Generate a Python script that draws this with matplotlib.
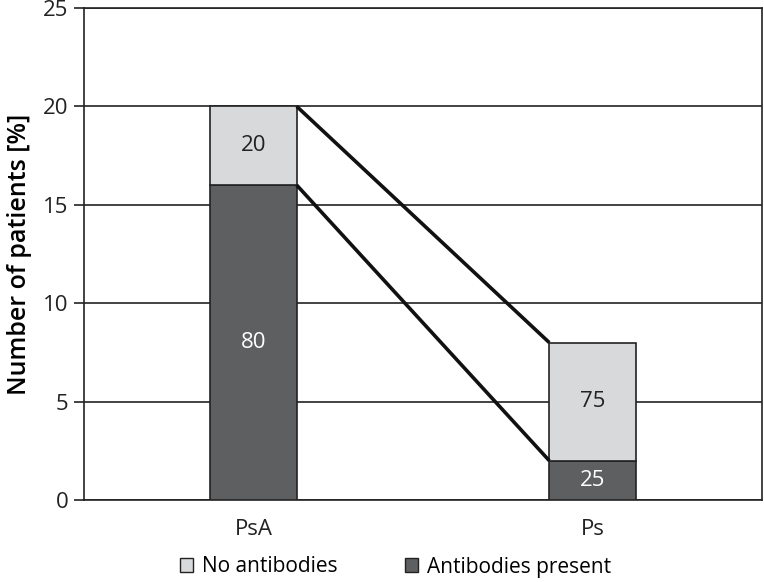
import matplotlib
matplotlib.use('Agg')
import matplotlib.pyplot as plt
from matplotlib.patches import Patch

plt.rcParams['font.family'] = ['Open Sans', 'DejaVu Sans']

groups = ['PsA', 'Ps']
antibodies = [16, 2]          # % of patients, antibodies present
no_antibodies = [4, 6]        # % of patients, no antibodies
pct_present = ['80', '25']    # share within group
pct_absent = ['20', '75']

DARK = '#5e5f61'
LIGHT = '#d8d9db'
INK = '#222222'
FS = 16

fig = plt.figure(figsize=(7.64, 5.82), dpi=100)
ax = fig.add_axes([84 / 764, 82 / 582, 678 / 764, 492 / 582])

x = list(range(len(groups)))
w = 0.255
ax.bar(x, antibodies, w, color=DARK, edgecolor=INK, linewidth=1.2, zorder=3)
ax.bar(x, no_antibodies, w, bottom=antibodies, color=LIGHT, edgecolor=INK,
       linewidth=1.2, zorder=3)

# connecting lines between bars
tops = [a + n for a, n in zip(antibodies, no_antibodies)]
ax.plot([x[0] + w / 2, x[1] - w / 2], [tops[0], tops[1]], color='#111111', lw=2.6, zorder=4,
        solid_capstyle='butt')
ax.plot([x[0] + w / 2, x[1] - w / 2], [antibodies[0], antibodies[1]], color='#111111', lw=2.6,
        zorder=4, solid_capstyle='butt')

for i in x:
    ax.text(i, antibodies[i] / 2, pct_present[i], ha='center', va='center',
            color='white', fontsize=FS, zorder=5)
    ax.text(i, antibodies[i] + no_antibodies[i] / 2, pct_absent[i], ha='center', va='center',
            color=INK, fontsize=FS, zorder=5)

ax.set_xlim(-0.5, 1.5)
ax.set_ylim(0, 25)
ax.set_yticks([0, 5, 10, 15, 20, 25])
ax.set_xticks(x)
ax.set_xticklabels(groups)
ax.yaxis.grid(True, color=INK, linewidth=1.2, zorder=0)
ax.tick_params(axis='y', length=7, width=1.2, labelsize=FS, pad=4, colors=INK)
ax.tick_params(axis='x', length=0, labelsize=FS, pad=14, colors=INK)
for s in ax.spines.values():
    s.set_color(INK)
    s.set_linewidth(1.2)
ax.set_ylabel('Number of patients [%]', fontsize=18, fontweight='semibold', labelpad=8)

handles = [Patch(facecolor=LIGHT, edgecolor=INK, label='No antibodies'),
           Patch(facecolor=DARK, edgecolor=INK, label='Antibodies present')]
fig.legend(handles=handles, loc='center left', bbox_to_anchor=(180 / 764, 1 - 567 / 582),
           ncol=2, frameon=False, fontsize=15, borderpad=0, borderaxespad=0,
           handlelength=0.62, handleheight=0.62, columnspacing=3.2, handletextpad=0.45)

fig.savefig('out.png', dpi=100)
